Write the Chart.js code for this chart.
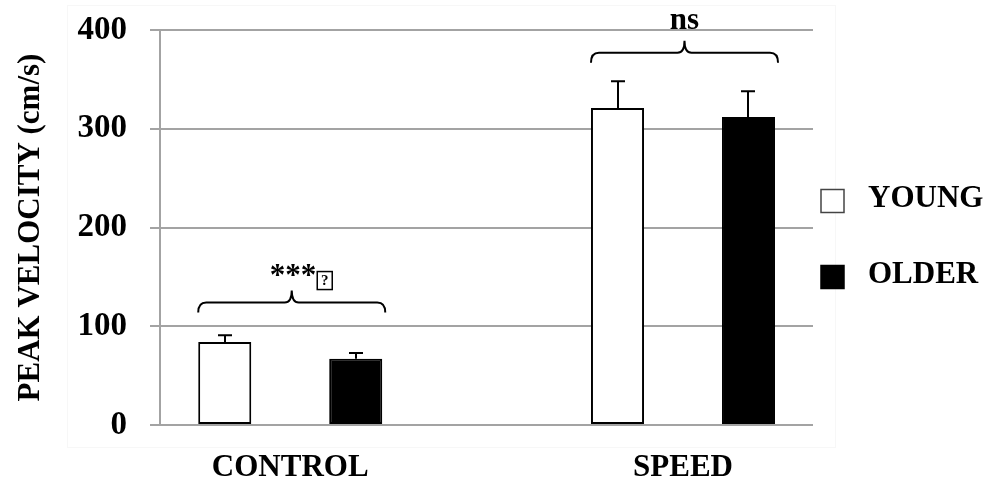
<!DOCTYPE html>
<html>
<head>
<meta charset="utf-8">
<script src="https://cdn.jsdelivr.net/npm/chart.js@4.4.1/dist/chart.umd.min.js"></script>
<style>
	html, body { margin: 0; padding: 0; background: #ffffff; }
	#wrap { width: 990px; height: 484px; }
</style>
</head>
<body>
<div id="wrap"><canvas id="mycanvas" width="990" height="484"></canvas></div>
<script>
var categories = ['CONTROL', 'SPEED'];
var young = [84, 321];
var youngErr = [7, 27];
var older = [67, 312];
var olderErr = [6, 26];
var yTicks = [0, 100, 200, 300, 400];
var sigLabels = ['***', 'ns'];
var braceLevels = [124, 377];

var FONT = "'Liberation Serif', 'Times New Roman', serif";
var GRID = '#a3a3a3';

function points(vals) {
	var out = [];
	for (var i in vals) {
		out.push({x: Number(i), y: vals[i]});
	}
	return out;
}

var decor = {
	id: 'decor',
	beforeDraw: function(chart) {
		var ctx = chart.ctx;
		ctx.save();
		ctx.strokeStyle = '#f7f7f7';
		ctx.lineWidth = 1;
		ctx.strokeRect(67.5, 5.5, 768, 442);
		ctx.restore();
	},
	afterDatasetsDraw: function(chart) {
		var ctx = chart.ctx;
		var ys = chart.scales.y;
		var errs = [youngErr, olderErr];
		var vals = [young, older];
		ctx.save();
		ctx.strokeStyle = '#000';
		ctx.lineWidth = 2;

		// error bars (upper half only)
		for (var d = 0; d < 2; d++) {
			var meta = chart.getDatasetMeta(d);
			meta.data.forEach(function(bar, j) {
				var x = Math.round(bar.x);
				var top = ys.getPixelForValue(vals[d][j] + errs[d][j]);
				ctx.beginPath();
				ctx.moveTo(x, bar.y);
				ctx.lineTo(x, top);
				ctx.moveTo(x - 7, top);
				ctx.lineTo(x + 7, top);
				ctx.stroke();
			});
		}

		// braces + significance labels
		var m0 = chart.getDatasetMeta(0), m1 = chart.getDatasetMeta(1);
		for (var k = 0; k < categories.length; k++) {
			var b0 = m0.data[k], b1 = m1.data[k];
			var L = b0.x - b0.width / 2;
			var R = b1.x + b1.width / 2 + 3;
			var C = (L + R) / 2;
			var h = ys.getPixelForValue(braceLevels[k]);
			ctx.beginPath();
			ctx.moveTo(L, h + 10);
			ctx.quadraticCurveTo(L, h, L + 8, h);
			ctx.lineTo(C - 7, h);
			ctx.quadraticCurveTo(C, h, C, h - 12);
			ctx.quadraticCurveTo(C, h, C + 7, h);
			ctx.lineTo(R - 8, h);
			ctx.quadraticCurveTo(R, h, R, h + 10);
			ctx.stroke();

			ctx.fillStyle = '#000';
			ctx.font = 'bold 31px ' + FONT;
			ctx.textBaseline = 'middle';
			var txt = sigLabels[k];
			var w = ctx.measureText(txt).width;
			if (txt === '***') {
				// the original shows a missing-glyph box after the stars
				var sx = C - 22;
				ctx.textAlign = 'left';
				ctx.fillText(txt, sx, h - 26);
				var bx = sx + w + 1;
				ctx.lineWidth = 1.5;
				ctx.strokeRect(bx, h - 31, 15, 18);
				ctx.font = 'bold 15px ' + FONT;
				ctx.textAlign = 'center';
				ctx.fillText('?', bx + 7.5, h - 21);
				ctx.lineWidth = 2;
			} else {
				ctx.textAlign = 'center';
				ctx.fillText(txt, C, h - 32);
			}
		}

		// legend
		var lx = chart.chartArea.right + 8;
		var names = ['YOUNG', 'OLDER'];
		var fills = ['#ffffff', '#000000'];
		var cy = [201, 277];
		for (var n = 0; n < 2; n++) {
			ctx.fillStyle = fills[n];
			ctx.fillRect(lx, cy[n] - 11.5, 23, 23);
			ctx.strokeStyle = n === 0 ? '#444' : '#000';
			ctx.lineWidth = 1.5;
			ctx.strokeRect(lx, cy[n] - 11.5, 23, 23);
			ctx.fillStyle = '#000';
			ctx.font = 'bold 31px ' + FONT;
			ctx.textAlign = 'left';
			ctx.textBaseline = 'middle';
			ctx.fillText(names[n], lx + 47, cy[n] - 2);
		}
		ctx.restore();
	}
};

var chartdata = {
	datasets: [
		{
			label: 'YOUNG',
			data: points(young),
			backgroundColor: '#ffffff',
			borderColor: '#000000',
			borderWidth: 2,
			borderSkipped: false
		},
		{
			label: 'OLDER',
			data: points(older),
			backgroundColor: '#000000',
			borderColor: '#000000',
			borderWidth: 2,
			borderSkipped: false
		}
	]
};

var ctx = document.getElementById('mycanvas');

var Graph = new Chart(ctx, {
	type: 'bar',
	data: chartdata,
	plugins: [decor],
	options: {
		responsive: false,
		animation: false,
		events: [],
		categoryPercentage: 0.667,
		barPercentage: 0.405,
		layout: { padding: { left: 0, right: 177, top: 30, bottom: 0 } },
		plugins: {
			legend: { display: false },
			tooltip: { enabled: false }
		},
		scales: {
			x: {
				type: 'linear',
				min: -0.3316,
				max: 1.331,
				offset: false,
				afterBuildTicks: function(s) {
					s.ticks = categories.map(function(c, i) { return {value: i}; });
				},
				afterFit: function(s) {
					s.height = 59;
					s.paddingLeft = 0;
					s.paddingRight = 0;
				},
				grid: { display: false, drawTicks: false },
				border: { display: false },
				ticks: {
					autoSkip: false,
					maxRotation: 0,
					padding: 24,
					color: '#000',
					font: { family: FONT, size: 31, weight: 'bold' },
					callback: function(v) { return categories[v]; }
				}
			},
			y: {
				min: 0,
				max: 400,
				afterBuildTicks: function(s) {
					s.ticks = yTicks.map(function(t) { return {value: t}; });
				},
				afterFit: function(s) {
					s.width = 160;
					s.paddingTop = 0;
					s.paddingBottom = 0;
				},
				grid: { color: GRID, lineWidth: 2, tickLength: 10 },
				border: { color: GRID, width: 2 },
				ticks: {
					padding: 23,
					color: '#000',
					font: { family: FONT, size: 33, weight: 'bold' }
				},
				title: {
					display: true,
					text: 'PEAK VELOCITY (cm/s)',
					color: '#000',
					padding: { top: 12, bottom: 0 },
					font: { family: FONT, size: 31, weight: 'bold' }
				}
			}
		}
	}
});
</script>
</body>
</html>
